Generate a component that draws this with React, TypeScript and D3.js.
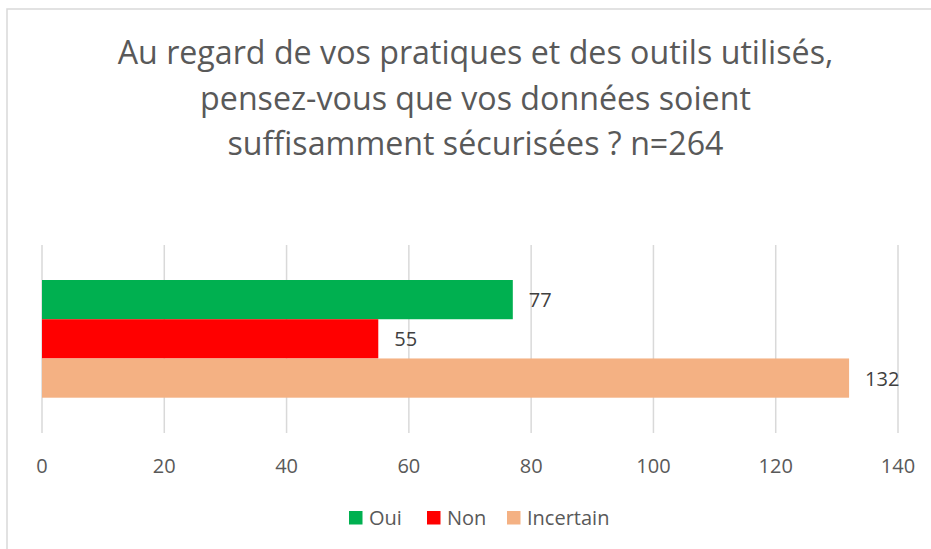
import React from "react";
import * as d3 from "d3";

const titleLines = [
  "Au regard de vos pratiques et des outils utilisés,",
  "pensez-vous que vos données soient",
  "suffisamment sécurisées ? n=264",
];
const categories = ["Oui", "Non", "Incertain"];
const values = [77, 55, 132];
const colors = ["#00B050", "#FF0000", "#F4B183"];
const ticks = [0, 20, 40, 60, 80, 100, 120, 140];

const W = 931;
const H = 549;
const FONT = "'Open Sans', 'Liberation Sans', Arial, sans-serif";

export default function App() {
  const x = d3.scaleLinear().domain([0, 140]).range([42, 898]);
  const y = d3.scaleBand().domain(categories).range([280, 397.7]).padding(0);
  const legendX = [349, 427, 507];
  return (
    <svg
      width={W}
      height={H}
      style={{ position: "absolute", left: 0, top: 0, background: "#fff" }}
      fontFamily={FONT}
    >
      <rect x={7} y={9} width={940} height={560} fill="#fff" stroke="#D9D9D9" strokeWidth={1.5} />
      {titleLines.map((t, i) => (
        <text key={i} x={475.5} y={64 + i * 45.5} textAnchor="middle" fontSize={32.2} fill="#595959">
          {t}
        </text>
      ))}
      {ticks.map((t) => (
        <line key={t} x1={x(t)} x2={x(t)} y1={245} y2={433} stroke="#D9D9D9" strokeWidth={1.5} />
      ))}
      {categories.map((c, i) => (
        <rect key={c} x={x(0)} y={y(c)} width={x(values[i]) - x(0)} height={y.bandwidth()} fill={colors[i]} />
      ))}
      {categories.map((c, i) => (
        <text
          key={c}
          x={x(values[i]) + 16}
          y={(y(c) as number) + y.bandwidth() / 2 + 7.5}
          fontSize={20}
          fill="#404040"
        >
          {values[i]}
        </text>
      ))}
      {ticks.map((t) => (
        <text key={t} x={x(t)} y={473} textAnchor="middle" fontSize={20} fill="#595959">
          {t}
        </text>
      ))}
      {categories.map((c, i) => (
        <g key={c}>
          <rect x={legendX[i]} y={511} width={13.5} height={13.5} fill={colors[i]} />
          <text x={legendX[i] + 20} y={525} fontSize={20} fill="#595959">
            {c}
          </text>
        </g>
      ))}
    </svg>
  );
}
